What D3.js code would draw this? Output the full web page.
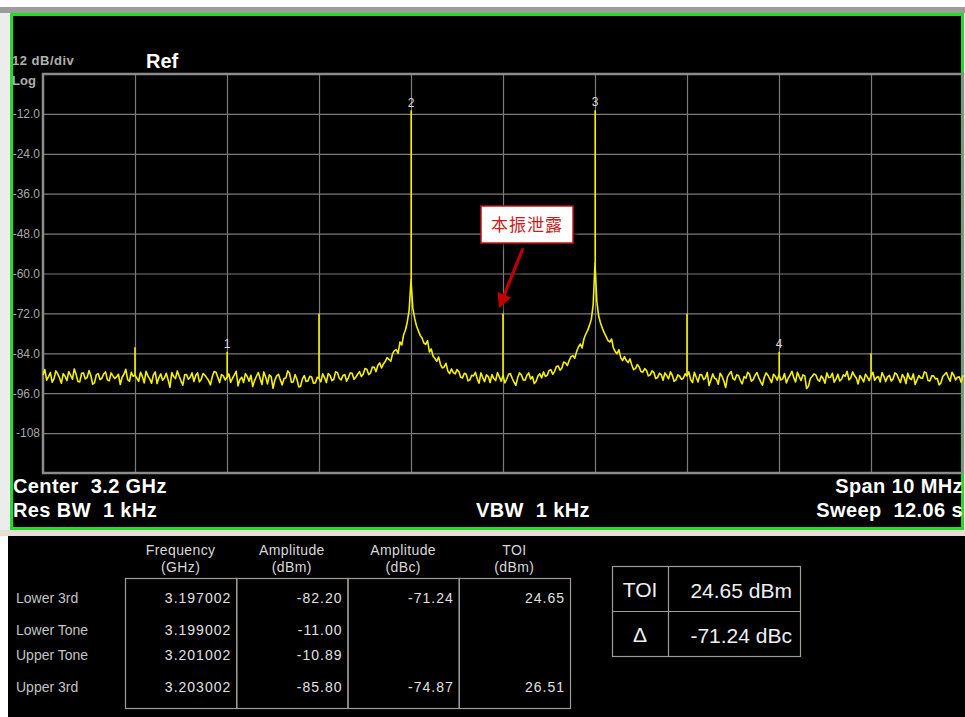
<!DOCTYPE html>
<html>
<head>
<meta charset="utf-8">
<script src="https://cdn.jsdelivr.net/npm/d3@7/dist/d3.min.js"></script>
<style>
  body { margin: 0; background: #fff; }
  svg { display: block; }
</style>
</head>
<body>
<div id="chart"></div>
<script>
// ---- data ----
var freqStart = 3.195, freqStop = 3.205;          // GHz (center 3.2, span 10 MHz)
var yTickValues = [-12, -24, -36, -48, -60, -72, -84, -96, -108];
var yTickLabels = ["-12.0", "-24.0", "-36.0", "-48.0", "-60.0", "-72.0", "-84.0", "-96.0", "-108"];
var xDivFreqs = [3.196, 3.197, 3.198, 3.199, 3.200, 3.201, 3.202, 3.203, 3.204];

// trace level (dBm) every 20 kHz from 3.195 GHz, one line per 1 MHz division
var traceStep = 0.00002;
var traceLevels = [
  -90.5,-88.9,-92.1,-91.0,-89.8,-92.7,-91.6,-89.3,-90.2,-91.4,-93.0,-90.1,-90.9,-92.2,-89.5,-90.6,-91.8,-88.7,-90.4,-92.5,-92.6,-90.0,-89.9,-91.7,-91.3,-89.2,-90.7,-93.3,-92.9,-90.4,-90.1,-91.9,-91.5,-90.2,-89.6,-92.0,-92.3,-89.9,-90.8,-91.6,-91.1,-90.3,-93.4,-91.2,-90.3,-88.8,-91.9,-92.4,-89.7,-90.9,
  -90.6,-91.5,-92.4,-89.7,-91.0,-92.9,-89.4,-90.8,-91.7,-93.0,-90.5,-89.6,-93.1,-91.3,-90.2,-92.1,-91.4,-90.0,-92.0,-94.2,-89.8,-91.0,-91.6,-89.3,-90.9,-92.3,-93.6,-90.5,-90.4,-91.8,-91.2,-89.9,-92.5,-90.7,-89.9,-92.6,-91.8,-90.1,-90.6,-91.4,-92.2,-93.5,-91.0,-89.5,-89.7,-91.2,-92.8,-90.4,-90.8,-92.0,
  -91.3,-90.2,-92.7,-91.5,-90.5,-89.4,-93.8,-91.9,-91.2,-92.8,-90.1,-91.0,-92.4,-90.6,-94.0,-92.2,-90.9,-89.8,-91.6,-93.4,-89.6,-91.1,-93.2,-90.5,-91.0,-94.5,-92.1,-90.8,-90.3,-92.0,-93.5,-91.6,-91.4,-89.3,-90.0,-92.7,-92.6,-90.4,-91.8,-94.1,-93.9,-91.7,-90.7,-92.5,-92.3,-90.9,-91.1,-93.0,-92.9,-91.2,
  -91.5,-92.6,-90.2,-91.3,-92.8,-90.1,-90.6,-92.2,-91.9,-89.6,-89.8,-91.5,-92.0,-90.7,-90.4,-92.4,-91.3,-89.9,-90.0,-91.8,-91.2,-90.3,-89.5,-91.0,-90.3,-88.6,-88.8,-90.4,-89.9,-88.1,-88.2,-89.5,-87.6,-86.9,-88.4,-87.2,-86.5,-85.3,-85.8,-86.4,-84.1,-83.2,-82.9,-84.0,-80.6,-81.5,-78.4,-77.0,-74.5,-71.0,
  -62.0,-70.5,-73.5,-75.8,-77.2,-78.6,-79.4,-80.9,-81.3,-80.2,-83.6,-82.7,-84.9,-85.6,-86.4,-85.1,-87.3,-88.4,-88.1,-87.0,-89.3,-90.1,-88.7,-89.8,-90.2,-88.9,-89.5,-91.2,-91.4,-90.0,-90.3,-92.3,-92.0,-90.6,-90.8,-89.7,-91.7,-93.0,-89.9,-91.3,-92.5,-90.5,-91.0,-92.8,-90.4,-91.6,-92.2,-89.8,-91.1,-92.4,
  -90.6,-92.9,-91.8,-90.3,-90.1,-91.5,-92.7,-93.6,-91.3,-89.9,-90.5,-92.0,-92.1,-90.6,-89.9,-91.7,-91.0,-93.1,-92.4,-90.8,-90.2,-91.4,-89.6,-90.9,-90.7,-89.2,-88.9,-90.3,-89.5,-88.0,-87.8,-89.1,-88.4,-86.6,-86.9,-87.7,-86.1,-85.0,-84.7,-85.5,-83.5,-82.1,-81.2,-82.4,-79.6,-78.2,-77.1,-75.6,-73.8,-69.5,
  -57.0,-68.5,-72.8,-74.9,-76.5,-77.8,-78.9,-80.1,-80.6,-79.7,-82.4,-83.5,-84.1,-82.9,-85.3,-86.2,-85.0,-86.1,-86.8,-85.7,-87.5,-88.9,-88.6,-87.4,-88.1,-89.5,-89.7,-88.6,-89.2,-90.8,-90.5,-89.3,-89.8,-91.6,-91.3,-90.0,-90.4,-92.1,-89.9,-90.7,-91.7,-89.6,-90.6,-92.4,-92.0,-90.5,-90.9,-91.8,-91.5,-90.2,
  -90.8,-89.6,-91.9,-92.8,-89.7,-91.2,-92.6,-90.4,-90.5,-91.9,-91.4,-89.8,-93.7,-92.0,-90.2,-91.5,-91.8,-93.3,-90.0,-90.9,-92.3,-94.3,-91.1,-90.2,-89.5,-91.6,-92.0,-90.5,-90.7,-92.2,-93.2,-91.0,-91.5,-89.7,-90.3,-92.4,-91.9,-90.6,-89.8,-91.3,-92.5,-93.6,-91.2,-89.9,-90.6,-91.7,-92.8,-90.3,-90.9,-92.1,
  -90.4,-92.0,-91.7,-90.1,-92.9,-91.5,-90.6,-89.4,-91.3,-92.6,-89.7,-91.0,-92.2,-90.5,-90.8,-94.6,-93.9,-91.6,-91.0,-90.2,-90.5,-91.9,-92.4,-90.8,-91.6,-93.0,-89.9,-91.3,-91.2,-90.0,-92.7,-91.7,-90.3,-92.3,-91.8,-90.5,-90.9,-89.4,-92.0,-91.4,-89.6,-90.7,-91.4,-93.2,-90.7,-91.5,-92.6,-90.3,-91.1,-92.2,
  -90.9,-89.7,-92.1,-91.3,-91.0,-92.6,-89.8,-90.9,-92.5,-91.1,-90.6,-92.3,-91.7,-89.9,-90.3,-91.6,-92.8,-90.4,-91.2,-93.1,-90.0,-91.5,-91.9,-90.2,-93.4,-92.0,-90.7,-91.4,-91.5,-89.6,-89.9,-92.2,-92.3,-90.8,-90.8,-91.7,-91.6,-93.5,-92.9,-91.0,-90.4,-89.8,-91.3,-92.4,-89.7,-90.6,-92.0,-91.2,-91.1,-92.7,-90.6
];

// discrete lines (tones, IM3 products, LO leakage, other spurs)
var spurFreqs  = [3.196, 3.197002, 3.198, 3.199002, 3.200, 3.201002, 3.202, 3.203002, 3.204];
var spurLevels = [-82.2, -83.5, -72.0, -11.0, -72.0, -10.89, -72.0, -83.5, -84.0];
var spurBases  = [-90.6, -91.3, -91.5, -62.0, -90.6, -57.0, -90.8, -90.4, -90.9];

var markerNames  = ["1", "2", "3", "4"];
var markerFreqs  = [3.197002, 3.199002, 3.201002, 3.203002];
var markerLevels = [-83.5, -11.0, -10.89, -83.5];

var leakFreq = 3.200, leakLevel = -72.0, leakText = "本振泄露";

// measurement table
var rowLabels = ["Lower 3rd", "Lower Tone", "Upper Tone", "Upper 3rd"];
var colHeads  = [["Frequency", "(GHz)"], ["Amplitude", "(dBm)"], ["Amplitude", "(dBc)"], ["TOI", "(dBm)"]];
var freqCol   = ["3.197002", "3.199002", "3.201002", "3.203002"];
var ampDbmCol = ["-82.20", "-11.00", "-10.89", "-85.80"];
var ampDbcCol = ["-71.24", "", "", "-74.87"];
var toiCol    = ["24.65", "", "", "26.51"];
var summaryNames  = ["TOI", "Δ"];
var summaryValues = ["24.65 dBm", "-71.24 dBc"];

// ---- layout ----
var W = 965, H = 717;
var plot = {left: 43, right: 963, top: 74, bottom: 473};
var font = "'Liberation Sans', Arial, sans-serif";

var svg = d3.select("#chart")
    .append("svg")
    .attr("width", W)
    .attr("height", H);

var defs = svg.append("defs");
var shadow = defs.append("filter").attr("id", "shadow")
    .attr("x", "-30%").attr("y", "-30%").attr("width", "160%").attr("height", "160%");
shadow.append("feDropShadow")
    .attr("dx", 3).attr("dy", 3).attr("stdDeviation", 2)
    .attr("flood-color", "#000").attr("flood-opacity", 0.6);
defs.append("marker")
    .attr("id", "arrow")
    .attr("viewBox", "0 0 10 10")
    .attr("refX", 8).attr("refY", 5)
    .attr("markerWidth", 4.5).attr("markerHeight", 4.5)
    .attr("orient", "auto")
    .append("path")
    .attr("d", "M0,0 L10,5 L0,10 z")
    .attr("fill", "#c00000");

// screen frame
svg.append("rect").attr("x", 0).attr("y", 7).attr("width", W).attr("height", 6).attr("fill", "#9c9c9c");
svg.append("rect").attr("x", 0).attr("y", 13).attr("width", 9).attr("height", 517).attr("fill", "#ececec");
svg.append("rect")
    .attr("x", 11.5).attr("y", 14.5).attr("width", 951).attr("height", 514)
    .attr("fill", "#000").attr("stroke", "#22dd22").attr("stroke-width", 3);
svg.append("rect").attr("x", 0).attr("y", 530).attr("width", W).attr("height", 6).attr("fill", "#e4e0d4");
svg.append("rect").attr("x", 8).attr("y", 536).attr("width", W - 8).attr("height", H - 536).attr("fill", "#000");

// scales
var x = d3.scaleLinear().domain([freqStart, freqStop]).range([plot.left, plot.right]);
var y = d3.scaleLinear().domain([0, -120]).range([plot.top, plot.bottom]);

var g = svg.append("g");

// grid via axes
g.append("g")
    .attr("transform", "translate(" + plot.left + ",0)")
    .call(d3.axisLeft(y)
        .tickValues(yTickValues)
        .tickSize(-(plot.right - plot.left))
        .tickPadding(3)
        .tickFormat(function(d, i) { return yTickLabels[i]; }))
    .call(function(a) {
        a.select(".domain").remove();
        a.selectAll("line").attr("stroke", "#7a7a7a").attr("stroke-width", 1.2);
        a.selectAll("text").attr("fill", "#a8a8a8").style("font", "12px " + font);
    });

g.append("g")
    .attr("transform", "translate(0," + plot.bottom + ")")
    .call(d3.axisBottom(x)
        .tickValues(xDivFreqs)
        .tickSize(-(plot.bottom - plot.top))
        .tickFormat(""))
    .call(function(a) {
        a.select(".domain").remove();
        a.selectAll("line").attr("stroke", "#7a7a7a").attr("stroke-width", 1.2);
    });

g.append("rect")
    .attr("x", plot.left).attr("y", plot.top)
    .attr("width", plot.right - plot.left).attr("height", plot.bottom - plot.top)
    .attr("fill", "none").attr("stroke", "#8c8c8c").attr("stroke-width", 2.5);

// header texts
svg.append("text").attr("x", 12).attr("y", 65)
    .attr("fill", "#b0b0b0").style("font", "bold 13px " + font).style("letter-spacing", "0.5px")
    .text("12 dB/div");
svg.append("text").attr("x", 12).attr("y", 85)
    .attr("fill", "#b0b0b0").style("font", "bold 13px " + font).text("Log");
svg.append("text").attr("x", 146).attr("y", 68)
    .attr("fill", "#fff").style("font", "bold 20px " + font).text("Ref");

// trace
var trace = d3.line()
    .x(function(d, i) { return x(freqStart + i * traceStep); })
    .y(function(d) { return y(d); });

g.append("path")
    .datum(traceLevels)
    .attr("d", trace)
    .attr("fill", "none")
    .attr("stroke", "#f4f000")
    .attr("stroke-width", 1.6)
    .attr("stroke-linejoin", "round");

g.selectAll(".spur")
    .data(spurFreqs)
    .enter()
    .append("line")
    .attr("class", "spur")
    .attr("x1", function(d) { return x(d); })
    .attr("x2", function(d) { return x(d); })
    .attr("y1", function(d, i) { return y(spurLevels[i]); })
    .attr("y2", function(d, i) { return y(spurBases[i]); })
    .attr("stroke", "#f4f000")
    .attr("stroke-width", 1.6);

// marker numbers
g.selectAll(".mk")
    .data(markerNames)
    .enter()
    .append("text")
    .attr("class", "mk")
    .attr("x", function(d, i) { return x(markerFreqs[i]); })
    .attr("y", function(d, i) { return y(markerLevels[i]) - 4; })
    .attr("text-anchor", "middle")
    .attr("fill", "#d8d8d8")
    .style("font", "12px " + font)
    .text(function(d) { return d; });

// LO leakage callout
var box = {x: 481, y: 206, w: 92, h: 37};
svg.append("line")
    .attr("x1", 523).attr("y1", 248)
    .attr("x2", x(leakFreq) - 3).attr("y2", y(leakLevel) - 8)
    .attr("stroke", "#c00000").attr("stroke-width", 3.2)
    .attr("marker-end", "url(#arrow)")
    .attr("filter", "url(#shadow)");
svg.append("rect")
    .attr("x", box.x).attr("y", box.y).attr("width", box.w).attr("height", box.h)
    .attr("fill", "#fff").attr("stroke", "#c0141e").attr("stroke-width", 1.5)
    .attr("filter", "url(#shadow)");
svg.append("text")
    .attr("x", box.x + box.w / 2).attr("y", box.y + 25)
    .attr("text-anchor", "middle")
    .attr("fill", "#c81e1e")
    .style("font", "17px 'Noto Sans CJK SC', sans-serif")
    .style("letter-spacing", "1px")
    .text(leakText);

// bottom annotation texts
var bigFont = "bold 20px " + font;
function bigText(tx, ty, anchor, s) {
    svg.append("text").attr("x", tx).attr("y", ty)
        .attr("text-anchor", anchor)
        .attr("fill", "#fff").style("font", bigFont).style("letter-spacing", "0.4px")
        .attr("xml:space", "preserve").text(s);
}
bigText(13, 493, "start", "Center  3.2 GHz");
bigText(13, 517, "start", "Res BW  1 kHz");
bigText(533, 517, "middle", "VBW  1 kHz");
bigText(963, 493, "end", "Span 10 MHz");
bigText(963, 517, "end", "Sweep  12.06 s");

// ---- measurement table ----
var col = d3.scaleBand().domain(d3.range(colHeads.length)).range([125, 570]);
var rowY = [603, 635, 660, 692];
var tableTop = 578, tableBottom = 708;
var headFont = "14px " + font;

var head = svg.selectAll(".head")
    .data(colHeads)
    .enter()
    .append("g")
    .attr("class", "head");
head.append("text")
    .attr("x", function(d, i) { return col(i) + col.bandwidth() / 2; })
    .attr("y", 555)
    .attr("text-anchor", "middle").attr("fill", "#d8d8d8").style("font", headFont)
    .style("letter-spacing", "0.4px")
    .text(function(d) { return d[0]; });
head.append("text")
    .attr("x", function(d, i) { return col(i) + col.bandwidth() / 2; })
    .attr("y", 572)
    .attr("text-anchor", "middle").attr("fill", "#d8d8d8").style("font", headFont)
    .style("letter-spacing", "0.4px")
    .text(function(d) { return d[1]; });

svg.selectAll(".cell")
    .data(colHeads)
    .enter()
    .append("rect")
    .attr("class", "cell")
    .attr("x", function(d, i) { return col(i) + 0.5; })
    .attr("y", tableTop + 0.5)
    .attr("width", col.bandwidth())
    .attr("height", tableBottom - tableTop)
    .attr("fill", "none").attr("stroke", "#a09c94").attr("stroke-width", 1.2);

svg.selectAll(".rowlab")
    .data(rowLabels)
    .enter()
    .append("text")
    .attr("class", "rowlab")
    .attr("x", 16)
    .attr("y", function(d, i) { return rowY[i]; })
    .attr("fill", "#c4c4c4").style("font", "14px " + font)
    .text(function(d) { return d; });

[freqCol, ampDbmCol, ampDbcCol, toiCol].forEach(function(values, c) {
    svg.selectAll(".v" + c)
        .data(values)
        .enter()
        .append("text")
        .attr("class", "v" + c)
        .attr("x", col(c) + col.bandwidth() - 5)
        .attr("y", function(d, i) { return rowY[i]; })
        .attr("text-anchor", "end")
        .attr("fill", "#e0e0e0").style("font", "14px " + font).style("letter-spacing", "1px")
        .text(function(d) { return d; });
});

// TOI summary box
var sx = 612, sy = 566, sDiv = 668, sw = 188, sh = 90;
svg.append("rect").attr("x", sx + 0.5).attr("y", sy + 0.5).attr("width", sw).attr("height", sh)
    .attr("fill", "none").attr("stroke", "#a09c94").attr("stroke-width", 1.2);
svg.append("line").attr("x1", sDiv + 0.5).attr("x2", sDiv + 0.5).attr("y1", sy).attr("y2", sy + sh)
    .attr("stroke", "#a09c94").attr("stroke-width", 1.2);
svg.append("line").attr("x1", sx).attr("x2", sx + sw).attr("y1", sy + sh / 2 + 0.5).attr("y2", sy + sh / 2 + 0.5)
    .attr("stroke", "#a09c94").attr("stroke-width", 1.2);
svg.selectAll(".sn")
    .data(summaryNames)
    .enter()
    .append("text")
    .attr("x", (sx + sDiv) / 2)
    .attr("y", function(d, i) { return sy + 31 + i * sh / 2; })
    .attr("text-anchor", "middle").attr("fill", "#f0f0f0").style("font", "21px " + font)
    .text(function(d) { return d; });
svg.selectAll(".sv")
    .data(summaryValues)
    .enter()
    .append("text")
    .attr("x", sx + sw - 8)
    .attr("y", function(d, i) { return sy + 32 + i * sh / 2; })
    .attr("text-anchor", "end").attr("fill", "#f0f0f0").style("font", "21px " + font)
    .text(function(d) { return d; });
</script>
</body>
</html>
